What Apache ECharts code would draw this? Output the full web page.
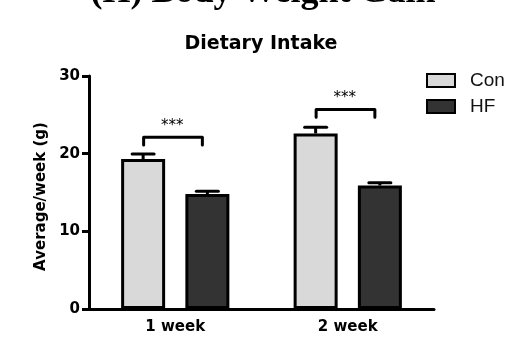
<!DOCTYPE html>
<html>
<head>
<meta charset="utf-8">
<script src="https://cdn.jsdelivr.net/npm/echarts@6/dist/echarts.min.js"></script>
<style>
  html, body { margin: 0; padding: 0; background: #fff; }
  #chart { width: 513px; height: 347px; }
</style>
</head>
<body>
<div id="chart"></div>
<script>
// Weekly dietary intake (g), control vs high-fat diet, mean + SEM
const categories = ['1 week', '2 week'];
const seriesNames = ['Con', 'HF'];
const conValues = [19.3, 22.6];
const hfValues = [14.8, 15.9];
const conSem = [0.65, 0.8];
const hfSem = [0.35, 0.35];
// significance brackets between Con and HF in each week
const sigLevels = [22.1, 25.7];
const sigLabels = ['***', '***'];
const yMin = 0, yMax = 30, yInterval = 10;

const BAR_WIDTH = 44;
const BAR_GAP = 0.46;
const BAR_OFFSET = (BAR_WIDTH + BAR_WIDTH * BAR_GAP) / 2;
const INK = '#000';
const BOLD_FONT = 'DejaVu Sans';

const chart = echarts.init(document.getElementById('chart'), null, { renderer: 'canvas' });

function errorBarItem(offsetSign, values, sems) {
  return {
    type: 'custom',
    coordinateSystem: 'cartesian2d',
    z: 5,
    silent: true,
    encode: { x: 0, y: 1 },
    data: values.map((v, i) => [i, v, sems[i]]),
    renderItem: function (params, api) {
      const idx = api.value(0);
      const base = api.coord([idx, api.value(1)]);
      const top = api.coord([idx, api.value(1) + api.value(2)]);
      const cx = base[0] + offsetSign * BAR_OFFSET;
      const capHalf = 11;
      return {
        type: 'group',
        children: [
          { type: 'line', shape: { x1: cx, y1: base[1], x2: cx, y2: top[1] },
            style: { stroke: INK, lineWidth: 3 } },
          { type: 'line', shape: { x1: cx - capHalf, y1: top[1], x2: cx + capHalf, y2: top[1] },
            style: { stroke: INK, lineWidth: 3, lineCap: 'round' } }
        ]
      };
    }
  };
}

const option = {
  animation: false,
  backgroundColor: '#fff',
  title: {
    text: 'Dietary Intake',
    left: 256,
    textAlign: 'center',
    top: 30,
    textStyle: { fontFamily: BOLD_FONT, fontWeight: 'bold', fontSize: 19, color: INK }
  },
  graphic: [{
    type: 'text',
    x: 263,
    y: -7,
    style: {
      text: '(H) Body Weight Gain',
      font: 'bold 36px "Liberation Serif"',
      fill: INK,
      textAlign: 'center',
      textVerticalAlign: 'middle'
    }
  }],
  legend: {
    data: seriesNames,
    orient: 'vertical',
    left: 421,
    top: 66,
    icon: 'rect',
    itemWidth: 28,
    itemHeight: 13,
    itemGap: 7,
    textStyle: { fontFamily: 'Liberation Sans', fontSize: 19, color: '#111', padding: [0, 0, 0, 10] }
  },
  grid: { left: 89, right: 79, top: 76, bottom: 38, containLabel: false },
  xAxis: {
    type: 'category',
    data: categories,
    axisLine: { lineStyle: { color: INK, width: 3 } },
    axisTick: { alignWithLabel: true, length: 6, lineStyle: { color: INK, width: 3 } },
    axisLabel: { margin: 11, fontFamily: BOLD_FONT, fontWeight: 'bold', fontSize: 15, color: INK },
    splitLine: { show: false }
  },
  yAxis: {
    type: 'value',
    min: yMin,
    max: yMax,
    interval: yInterval,
    name: 'Average/week (g)',
    nameLocation: 'middle',
    nameGap: 37,
    nameTextStyle: { fontFamily: BOLD_FONT, fontWeight: 'bold', fontSize: 15, color: INK, padding: [0, 8, 0, 0] },
    axisLine: { show: true, lineStyle: { color: INK, width: 3 } },
    axisTick: { show: true, length: 7, lineStyle: { color: INK, width: 3 } },
    axisLabel: { margin: 9, fontFamily: BOLD_FONT, fontWeight: 'bold', fontSize: 15, color: INK },
    splitLine: { show: false }
  },
  series: [
    {
      name: 'Con',
      type: 'bar',
      data: conValues,
      barWidth: BAR_WIDTH,
      barGap: (BAR_GAP * 100) + '%',
      itemStyle: { color: '#d9d9d9', borderColor: INK, borderWidth: 3 },
      z: 3
    },
    {
      name: 'HF',
      type: 'bar',
      data: hfValues,
      barWidth: BAR_WIDTH,
      barGap: (BAR_GAP * 100) + '%',
      itemStyle: { color: '#333333', borderColor: INK, borderWidth: 3 },
      z: 3
    },
    errorBarItem(-1, conValues, conSem),
    errorBarItem(1, hfValues, hfSem),
    {
      type: 'custom',
      coordinateSystem: 'cartesian2d',
      z: 6,
      silent: true,
      encode: { x: 0, y: 1 },
      data: sigLevels.map((lv, i) => [i, lv]),
      renderItem: function (params, api) {
        const idx = api.value(0);
        const lv = api.value(1);
        const top = api.coord([idx, lv]);
        const legBottom = api.coord([idx, lv - 1])[1];
        const starY = api.coord([idx, lv + 1.5])[1];
        const xl = top[0] - BAR_OFFSET + 0.5;
        const xr = top[0] + BAR_OFFSET - 5;
        return {
          type: 'group',
          children: [
            { type: 'polyline',
              shape: { points: [[xl, legBottom], [xl, top[1]], [xr, top[1]], [xr, legBottom]] },
              style: { stroke: INK, lineWidth: 3, fill: null, lineJoin: 'round', lineCap: 'round' } },
            { type: 'text', x: top[0] - 3, y: starY,
              style: { text: sigLabels[idx], fill: INK, font: '15px "DejaVu Sans"',
                       textAlign: 'center', textVerticalAlign: 'middle' } }
          ]
        };
      }
    }
  ]
};

chart.setOption(option);
</script>
</body>
</html>
